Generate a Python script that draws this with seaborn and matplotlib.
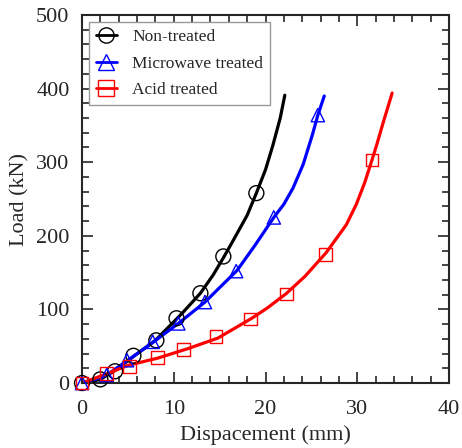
import matplotlib
matplotlib.use("Agg")
import matplotlib.pyplot as plt
from matplotlib.lines import Line2D
from matplotlib.ticker import MultipleLocator
import seaborn as sns
import pandas as pd

# Curve data
non_curve_x = [0, 1.0, 2.0, 3.6, 5.6, 8.0, 10.3, 11.0, 12.9, 14.3, 15.4, 16.4, 18.0, 19.0, 20.0, 20.8, 21.6, 22.1]
non_curve_y = [0, 2, 5, 17, 36, 58, 87, 96, 122, 147, 170, 192, 228, 258, 290, 323, 360, 391]
mw_curve_x = [0, 1.0, 2.7, 4.9, 7.7, 10.5, 13.4, 14.7, 16.9, 18.9, 20.9, 22.0, 23.0, 24.1, 25.1, 25.7, 26.4]
mw_curve_y = [0, 3, 11, 30, 55, 81, 110, 126, 153, 188, 225, 243, 265, 297, 337, 364, 390]
acid_curve_x = [0, 2.8, 5.0, 8.3, 11.6, 14.8, 18.5, 20.2, 22.3, 24.3, 26.6, 28.8, 29.9, 30.8, 31.6, 32.1, 32.8, 33.8]
acid_curve_y = [0, 13, 24, 34, 47, 61, 88, 102, 122, 145, 177, 215, 243, 272, 303, 323, 353, 394]

# Marker data
non_mk_x = [0, 2.0, 3.6, 5.6, 8.1, 10.3, 12.9, 15.4, 19.0]
non_mk_y = [0, 5, 16, 37, 58, 88, 122, 172, 258]
mw_mk_x = [0, 2.7, 4.9, 7.7, 10.5, 13.4, 16.8, 20.9, 25.7]
mw_mk_y = [0, 11, 31, 56, 81, 110, 152, 225, 364]
acid_mk_x = [0, 2.7, 5.2, 8.2, 11.1, 14.6, 18.4, 22.3, 26.5, 31.6]
acid_mk_y = [0, 13, 22, 35, 46, 63, 87, 121, 175, 303]

labels = ["Non-treated", "Microwave treated", "Acid treated"]
colors = ["black", "blue", "red"]
markers = ["o", "^", "s"]
msizes = [116, 92, 84]

sns.set_style("ticks")
plt.rcParams["font.family"] = ["Liberation Serif", "DejaVu Serif"]

fig = plt.figure(figsize=(4.62, 4.48), dpi=100)
ax = fig.add_axes([0.1775, 0.145, 0.7945, 0.8215])

curves = [(non_curve_x, non_curve_y), (mw_curve_x, mw_curve_y), (acid_curve_x, acid_curve_y)]
marks = [(non_mk_x, non_mk_y), (mw_mk_x, mw_mk_y), (acid_mk_x, acid_mk_y)]

for (cx, cy), (mx, my), c, m, ms in zip(curves, marks, colors, markers, msizes):
    dfc = pd.DataFrame({"x": cx, "y": cy})
    sns.lineplot(data=dfc, x="x", y="y", ax=ax, color=c, lw=2.3, sort=False, estimator=None)
    dfm = pd.DataFrame({"x": mx, "y": my})
    sns.scatterplot(data=dfm, x="x", y="y", ax=ax, marker=m, s=ms,
                    facecolors="none", edgecolor=c, linewidth=1.0, clip_on=False, zorder=5)

ax.set_xlim(0, 40)
ax.set_ylim(0, 500)
ax.xaxis.set_major_locator(MultipleLocator(10))
ax.xaxis.set_minor_locator(MultipleLocator(2))
ax.yaxis.set_major_locator(MultipleLocator(100))
ax.yaxis.set_minor_locator(MultipleLocator(20))
ax.tick_params(which="both", direction="in", top=True, right=True, labelsize=16, width=1.2)
ax.tick_params(which="major", length=8)
ax.tick_params(axis="x", which="major", pad=12.5)
ax.tick_params(axis="y", which="major", pad=9)
ax.tick_params(which="minor", length=5)
for s in ax.spines.values():
    s.set_linewidth(1.5)
ax.set_xlabel("Dispacement (mm)", fontsize=16, labelpad=4)
ax.set_ylabel("Load (kN)", fontsize=16, labelpad=5)

handles = [Line2D([0], [0], color=c, lw=2.0, marker=m, markersize=11,
                  markerfacecolor="none", markeredgecolor=c, markeredgewidth=1.0)
           for c, m in zip(colors, markers)]
leg = ax.legend(handles, labels, loc="upper left", fontsize=12.5, frameon=True,
                fancybox=False, edgecolor="#999999", framealpha=1,
                borderaxespad=0.4, handlelength=1.2, handletextpad=0.9, labelspacing=0.6,
                borderpad=0.4)
leg.get_frame().set_linewidth(1.0)

fig.savefig("out.png", dpi=100)
